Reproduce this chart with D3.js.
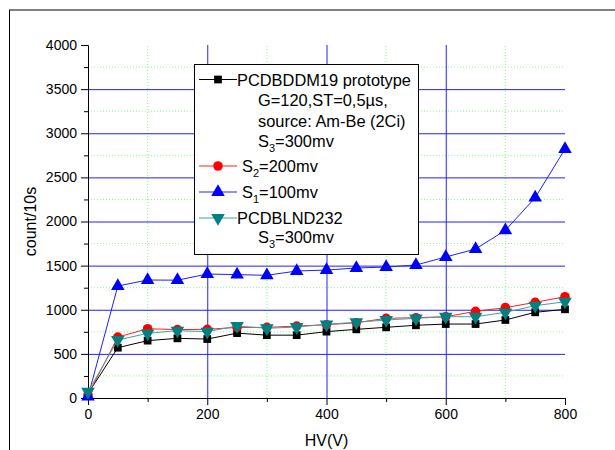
<!DOCTYPE html>
<html>
<head>
<meta charset="utf-8">
<script src="https://cdn.jsdelivr.net/npm/d3@7"></script>
<style>
    body { margin: 0; background: #fff; }
    #chart { width: 615px; height: 450px; }
    text { font-family: Arial, "Liberation Sans", sans-serif; fill: #000; }
    .tickLabel { font-size: 14px; }
    .axisLabel { font-size: 16px; }
    .legendLabel { font-size: 16.4px; }
</style>
</head>
<body>
<div id="chart"></div>
<script>
// data
const hv = [0, 50, 100, 150, 200, 250, 300, 350, 400, 450, 500, 550, 600, 650, 700, 750, 800];
const pcdbddm19 = [50, 570, 650, 676, 668, 735, 712, 712, 752, 778, 801, 824, 838, 838, 884, 971, 1005];
const s2 = [34, 690, 785, 775, 778, 800, 800, 815, 830, 853, 903, 910, 921, 982, 1024, 1084, 1148];
const s1 = [15, 1269, 1337, 1335, 1405, 1398, 1390, 1439, 1450, 1473, 1484, 1507, 1598, 1688, 1900, 2270, 2821];
const pcdblnd232 = [71, 657, 733, 763, 752, 816, 790, 804, 835, 858, 884, 903, 921, 921, 971, 1046, 1091];

const xTicks = [0, 200, 400, 600, 800];
const yTicks = [0, 500, 1000, 1500, 2000, 2500, 3000, 3500, 4000];

const width = 615;
const height = 450;
const margin = { top: 45, left: 88, right: 50, bottom: 52 };

const svg = d3.select("#chart")
    .append("svg")
    .attr("width", width)
    .attr("height", height);

// page frame
svg.append("line")
    .attr("x1", 9).attr("x2", width).attr("y1", 10).attr("y2", 10)
    .attr("stroke", "#808080").attr("stroke-width", 2);
svg.append("line")
    .attr("x1", 9.5).attr("x2", 9.5).attr("y1", 10).attr("y2", height)
    .attr("stroke", "#000").attr("stroke-width", 1);

const xScale = d3.scaleLinear()
    .domain([0, 800])
    .range([margin.left, width - margin.right]);

const yScale = d3.scaleLinear()
    .domain([0, 4000])
    .range([height - margin.bottom, margin.top]);

//grid: minor green dotted, major blue
const grid = svg.append("g");
grid.selectAll(".minorX")
    .data([100, 300, 500, 700])
    .enter()
    .append("line")
    .attr("x1", d => xScale(d)).attr("x2", d => xScale(d))
    .attr("y1", yScale(0)).attr("y2", yScale(4000))
    .attr("stroke", "#7fff7f").attr("stroke-dasharray", "1,2");
grid.selectAll(".minorY")
    .data(d3.range(250, 4000, 500))
    .enter()
    .append("line")
    .attr("y1", d => yScale(d)).attr("y2", d => yScale(d))
    .attr("x1", xScale(0)).attr("x2", xScale(800))
    .attr("stroke", "#7fff7f").attr("stroke-dasharray", "1,2");
grid.selectAll(".majorX")
    .data([200, 400, 600])
    .enter()
    .append("line")
    .attr("x1", d => xScale(d) + 0.5).attr("x2", d => xScale(d) + 0.5)
    .attr("y1", yScale(0)).attr("y2", yScale(4000))
    .attr("stroke", "#2020ff");
grid.selectAll(".majorY")
    .data(d3.range(500, 4000, 500))
    .enter()
    .append("line")
    .attr("y1", d => yScale(d) + 0.5).attr("y2", d => yScale(d) + 0.5)
    .attr("x1", xScale(0)).attr("x2", xScale(800))
    .attr("stroke", "#2020ff");

//axes
const xAxis = svg.append("g")
    .attr("transform", `translate(0,${yScale(0)})`)
    .call(d3.axisBottom(xScale).tickValues(xTicks).tickSize(7).tickSizeOuter(0).tickPadding(4).tickFormat(d3.format("d")));
svg.append("g")
    .attr("transform", `translate(0,${yScale(0)})`)
    .call(d3.axisBottom(xScale).tickValues([100, 300, 500, 700]).tickSize(4).tickSizeOuter(0).tickFormat(""));

const yAxis = svg.append("g")
    .attr("transform", `translate(${xScale(0)},0)`)
    .call(d3.axisLeft(yScale).tickValues(yTicks).tickSize(7).tickSizeOuter(0).tickPadding(4).tickFormat(d3.format("d")));
svg.append("g")
    .attr("transform", `translate(${xScale(0)},0)`)
    .call(d3.axisLeft(yScale).tickValues(d3.range(250, 4000, 500)).tickSize(4).tickSizeOuter(0).tickFormat(""));

svg.selectAll(".tick text")
    .attr("class", "tickLabel")
    .attr("font-family", null)
    .attr("font-size", null);
svg.selectAll(".domain, .tick line").attr("stroke", "#000");

const xAxisLabel = svg.append("text")
    .attr("class", "axisLabel")
    .attr("x", (xScale(0) + xScale(800)) / 2)
    .attr("y", 446)
    .attr("text-anchor", "middle")
    .text("HV(V)");

const yAxisLabel = svg.append("text")
    .attr("class", "axisLabel")
    .attr("transform", "rotate(-90)")
    .attr("x", -(yScale(0) + yScale(4000)) / 2)
    .attr("y", 36)
    .attr("text-anchor", "middle")
    .text("count/10s");

//series definitions
const series = [
    { values: pcdbddm19, line: "#000", fill: "#000", symbol: d3.symbolSquare, size: 60, rotate: 0 },
    { values: s2, line: "#ff2020", fill: "#ff0000", symbol: d3.symbolCircle, size: 72, rotate: 0 },
    { values: s1, line: "#2020ff", fill: "#0000ff", symbol: d3.symbolTriangle, size: 80, rotate: 0 },
    { values: pcdblnd232, line: "#44a0a0", fill: "#008080", symbol: d3.symbolTriangle, size: 80, rotate: 180 }
];

const lineGen = d3.line()
    .x((d, i) => xScale(hv[i]))
    .y(d => yScale(d));

series.forEach(s => {
    svg.append("path")
        .attr("d", lineGen(s.values))
        .attr("fill", "none")
        .attr("stroke", s.line)
        .attr("stroke-width", 1);
    svg.selectAll(null)
        .data(s.values)
        .enter()
        .append("path")
        .attr("d", d3.symbol().type(s.symbol).size(s.size))
        .attr("transform", (d, i) => `translate(${xScale(hv[i])},${yScale(d)}) rotate(${s.rotate})`)
        .attr("fill", s.fill);
});

//legend
const legend = svg.append("g");
legend.append("rect")
    .attr("x", 194.5).attr("y", 64.5)
    .attr("width", 224).attr("height", 190)
    .attr("fill", "#fff")
    .attr("stroke", "#000");

function legendSymbol(s, y) {
    legend.append("line")
        .attr("x1", 199).attr("x2", 237).attr("y1", y).attr("y2", y)
        .attr("stroke", s.line);
    legend.append("path")
        .attr("d", d3.symbol().type(s.symbol).size(s.size))
        .attr("transform", `translate(218,${y}) rotate(${s.rotate})`)
        .attr("fill", s.fill);
}

// text line with optional subscript: parts = [text, sub, text]
function legendText(x, y, parts) {
    const t = legend.append("text")
        .attr("class", "legendLabel")
        .attr("x", x)
        .attr("y", y + 6);
    t.append("tspan").text(parts[0]);
    if (parts.length > 1) {
        t.append("tspan").attr("dy", 5).attr("font-size", "11px").text(parts[1]);
        t.append("tspan").attr("dy", -5).text(parts[2]);
    }
}

legendSymbol(series[0], 79.5);
legendText(237, 79.5, ["PCDBDDM19 prototype"]);
legendText(258, 100, ["G=120,ST=0,5\u00b5s,"]);
legendText(258, 120.5, ["source: Am-Be (2Ci)"]);
legendText(258, 141, ["S", "3", "=300mv"]);

legendSymbol(series[1], 166);
legendText(242, 166, ["S", "2", "=200mv"]);

legendSymbol(series[2], 192);
legendText(242, 192, ["S", "1", "=100mv"]);

legendSymbol(series[3], 218);
legendText(237, 218, ["PCDBLND232"]);
legendText(258, 237, ["S", "3", "=300mv"]);
</script>
</body>
</html>
